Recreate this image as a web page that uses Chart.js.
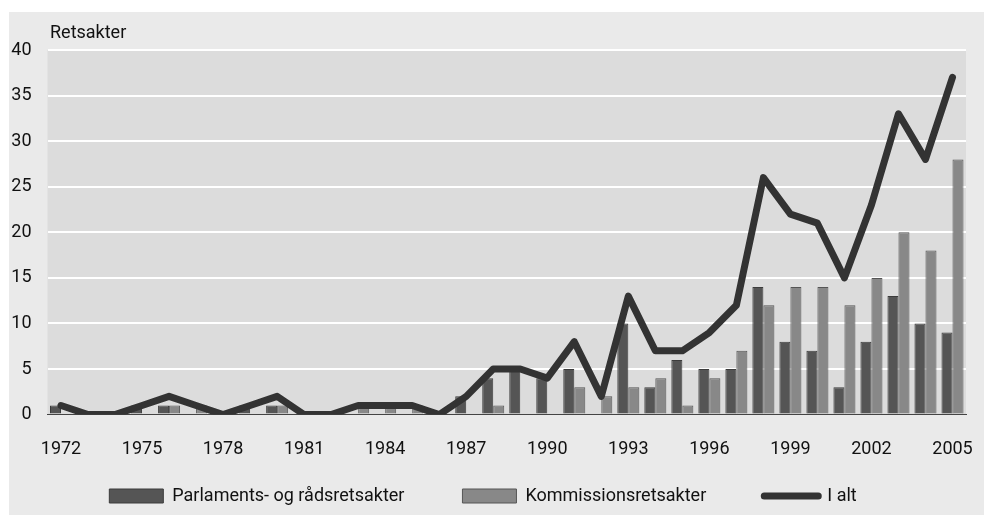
<!DOCTYPE html>
<html>
<head>
<meta charset="utf-8">
<script src="https://cdn.jsdelivr.net/npm/chart.js@4/dist/chart.umd.min.js"></script>
<style>
  html, body { margin: 0; padding: 0; background: #fff; }
  canvas { display: block; }
</style>
</head>
<body>
<canvas id="c" width="984" height="515"></canvas>
<script>
const years = ['1972','1973','1974','1975','1976','1977','1978','1979','1980','1981','1982','1983','1984','1985','1986','1987','1988','1989','1990','1991','1992','1993','1994','1995','1996','1997','1998','1999','2000','2001','2002','2003','2004','2005'];
const parlamentsRaad = [1,0,0,1,1,0,0,1,1,0,0,0,0,0,0,2,4,5,4,5,0,10,3,6,5,5,14,8,7,3,8,13,10,9];
const kommission    = [0,0,0,0,1,1,0,0,1,0,0,1,1,1,0,0,1,0,0,3,2,3,4,1,4,7,12,14,14,12,15,20,18,28];
const iAlt          = [1,0,0,1,2,1,0,1,2,0,0,1,1,1,0,2,5,5,4,8,2,13,7,7,9,12,26,22,21,15,23,33,28,37];
const seriesNames = ['Parlaments- og rådsretsakter', 'Kommissionsretsakter', 'I alt'];
const yTitle = 'Retsakter';

const FONT = 'Roboto, "Liberation Sans", sans-serif';

const bgPlugin = {
  id: 'bg',
  beforeDraw(chart) {
    const { ctx, chartArea: a } = chart;
    ctx.save();
    ctx.fillStyle = '#ffffff';
    ctx.fillRect(0, 0, chart.width, chart.height);
    ctx.fillStyle = '#eaeaea';
    ctx.fillRect(9, 12, chart.width - 9, chart.height - 12);
    ctx.fillStyle = '#dcdcdc';
    ctx.fillRect(a.left, a.top, a.right - a.left, a.bottom - a.top);
    ctx.fillStyle = '#111111';
    ctx.font = '18px ' + FONT;
    ctx.textBaseline = 'alphabetic';
    ctx.textAlign = 'left';
    ctx.fillText(yTitle, 50, 38);
    ctx.restore();
  }
};

new Chart(document.getElementById('c'), {
  type: 'bar',
  data: {
    labels: years,
    datasets: [
      {
        type: 'bar', label: seriesNames[0], data: parlamentsRaad, order: 1,
        backgroundColor: '#555555', borderColor: '#3c3c3c', borderWidth: 1,
        categoryPercentage: 0.815, barPercentage: 1.0
      },
      {
        type: 'bar', label: seriesNames[1], data: kommission, order: 2,
        backgroundColor: '#888888', borderColor: '#555555', borderWidth: 1,
        categoryPercentage: 0.815, barPercentage: 1.0
      },
      {
        type: 'line', label: seriesNames[2], data: iAlt, order: 0,
        borderColor: '#333333', backgroundColor: '#333333', borderWidth: 7,
        pointRadius: 0, pointHoverRadius: 0, tension: 0, fill: false,
        borderCapStyle: 'round', borderJoinStyle: 'round'
      }
    ]
  },
  options: {
    responsive: false,
    animation: false,
    devicePixelRatio: 1,
    layout: { padding: { left: 0, right: 18, top: 50, bottom: 0 } },
    plugins: {
      tooltip: { enabled: false },
      legend: {
        position: 'bottom',
        align: 'center',
        labels: {
          font: { family: FONT, size: 18 },
          color: '#111111',
          padding: 58,
          usePointStyle: true,
          pointStyleWidth: 54,
          boxHeight: 14,
          sort: (a, b) => a.datasetIndex - b.datasetIndex,
          generateLabels(chart) {
            const items = Chart.defaults.plugins.legend.labels.generateLabels(chart);
            items.forEach(it => {
              if (it.datasetIndex === 2) {
                it.pointStyle = 'line';
                it.lineWidth = 7;
                it.lineCap = 'round';
                it.strokeStyle = '#333333';
              } else {
                it.pointStyle = 'rect';
                it.lineWidth = 1;
              }
            });
            return items;
          }
        }
      }
    },
    scales: {
      x: {
        offset: true,
        grid: { display: false, drawTicks: false },
        border: { display: true, color: '#444444', width: 1 },
        ticks: {
          font: { family: FONT, size: 18 },
          color: '#111111',
          mirror: true,
          padding: -46,
          autoSkip: false,
          maxRotation: 0,
          callback: function (v, i) { return (i % 3 === 0) ? this.getLabelForValue(v) : ''; }
        },
        afterFit(scale) { scale.height = 14.4; }
      },
      y: {
        min: 0, max: 40,
        grid: {
          drawTicks: false,
          lineWidth: 2,
          color: ctx => (ctx.tick && ctx.tick.value === 0) ? 'rgba(0,0,0,0)' : '#ffffff'
        },
        border: { display: false },
        ticks: {
          stepSize: 5,
          font: { family: FONT, size: 18 },
          color: '#111111',
          padding: 16
        },
        afterFit(scale) { scale.width = 47.5; }
      }
    }
  },
  plugins: [bgPlugin]
});
</script>
</body>
</html>
